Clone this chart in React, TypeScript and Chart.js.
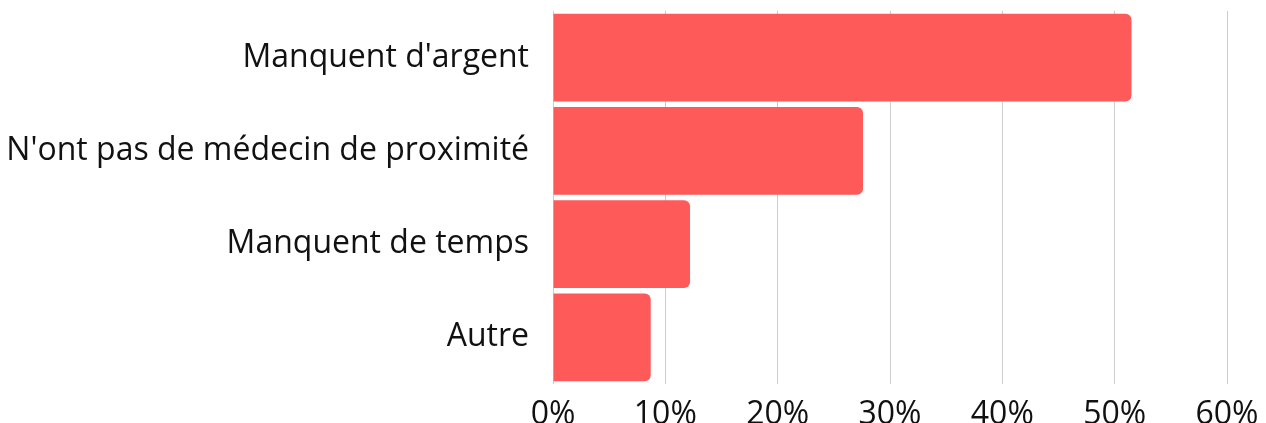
import React, { useEffect, useRef } from "react";
import { Chart, registerables } from "chart.js";

Chart.register(...registerables);

const categories = [
  "Manquent d'argent",
  "N'ont pas de médecin de proximité",
  "Manquent de temps",
  "Autre",
];
const values = [51.5, 27.6, 12.2, 8.7];
const xTicks = [0, 10, 20, 30, 40, 50, 60];

export default function App() {
  const ref = useRef<HTMLCanvasElement | null>(null);
  useEffect(() => {
    document.body.style.margin = "0";
    const ctx = ref.current!;
    const chart = new Chart(ctx, {
      type: "bar",
      data: {
        labels: categories,
        datasets: [
          {
            data: values,
            backgroundColor: "#FF5A5A",
            borderRadius: 6,
            borderSkipped: "start",
            barPercentage: 0.94,
            categoryPercentage: 1,
          },
        ],
      },
      options: {
        indexAxis: "y",
        animation: false,
        responsive: false,
        maintainAspectRatio: false,
        layout: { padding: { top: 11, right: 39, left: 0, bottom: 0 } },
        plugins: { legend: { display: false }, tooltip: { enabled: false } },
        scales: {
          x: {
            min: 0,
            max: 60,
            afterBuildTicks: (s: any) => {
              s.ticks = xTicks.map((v) => ({ value: v }));
            },
            afterFit: (s: any) => {
              s.height = 39;
              s.paddingLeft = 0;
              s.paddingRight = 0;
            },
            grid: { color: "#cccccc", drawTicks: false, lineWidth: 1 },
            border: { display: false },
            ticks: {
              padding: 12,
              color: "#111111",
              font: { family: "'Open Sans'", size: 32 },
              callback: (v: any) => v + "%",
            },
          },
          y: {
            afterFit: (s: any) => {
              s.width = 553;
              s.paddingTop = 0;
              s.paddingBottom = 0;
            },
            grid: { display: false, drawTicks: false },
            border: { display: false },
            ticks: {
              padding: 24,
              color: "#111111",
              font: { family: "'Open Sans'", size: 32 },
            },
          },
        },
      },
    });
    return () => chart.destroy();
  }, []);
  return (
    <div style={{ position: "absolute", left: 0, top: 0, width: 1266, height: 423 }}>
      <canvas ref={ref} width={1266} height={423} />
    </div>
  );
}
